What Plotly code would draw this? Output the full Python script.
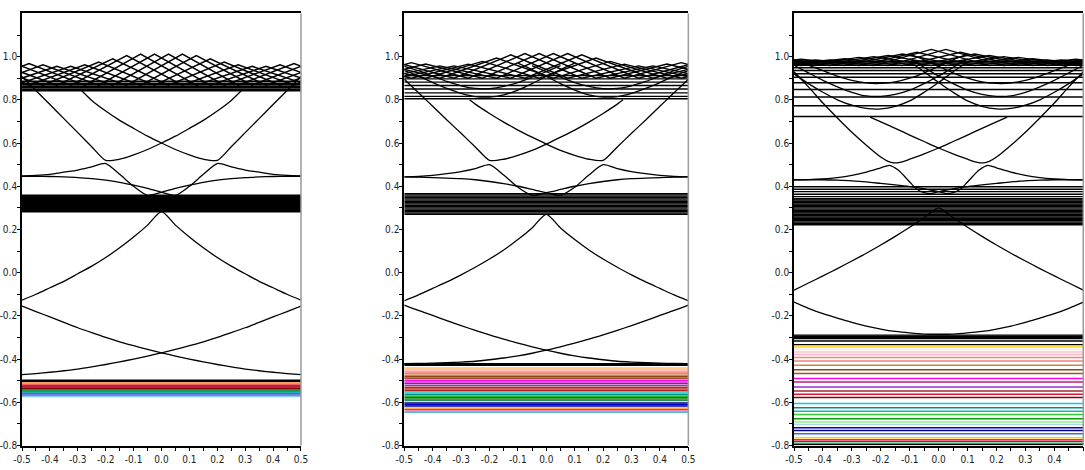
import plotly.graph_objects as go

# ---------------- common grids ----------------
XG = [-0.5, -0.45, -0.4, -0.35, -0.3, -0.25, -0.2, -0.15, -0.1, -0.05, 0.0,
      0.05, 0.1, 0.15, 0.2, 0.25, 0.3, 0.35, 0.4, 0.45, 0.5]
XR = [-0.5, 0.5]
FISH_X = [-0.675, -0.625, -0.575, -0.525, -0.475, -0.425, -0.375, -0.325, -0.275, -0.225,
          -0.175, -0.125, -0.075, -0.025, 0.025, 0.075, 0.125, 0.175, 0.225, 0.275,
          0.325, 0.375, 0.425, 0.475, 0.525, 0.575, 0.625, 0.675]

# ---------------- panel 1 ----------------
P1_V = [-0.127, -0.10, -0.07, -0.04, -0.005, 0.03, 0.07, 0.115, 0.165, 0.22, 0.283,
        0.22, 0.165, 0.115, 0.07, 0.03, -0.005, -0.04, -0.07, -0.10, -0.127]
P1_X = [-0.155, -0.18, -0.205, -0.23, -0.255, -0.278, -0.30, -0.32, -0.338, -0.355, -0.371,
        -0.386, -0.40, -0.413, -0.425, -0.436, -0.446, -0.454, -0.461, -0.467, -0.472]
P1_R = [0.448, 0.45, 0.455, 0.465, 0.475, 0.49, 0.505, 0.455, 0.40, 0.358, 0.372,
        0.39, 0.405, 0.418, 0.428, 0.435, 0.44, 0.443, 0.445, 0.446, 0.446]
P1_BX = [-0.5, -0.46, -0.4, -0.35, -0.3, -0.25, -0.2, -0.15, -0.1, -0.05, 0.0,
         0.05, 0.1, 0.15, 0.2, 0.25, 0.292]
P1_BY = [0.908, 0.856, 0.778, 0.713, 0.648, 0.583, 0.52, 0.525, 0.545, 0.57, 0.60,
         0.632, 0.668, 0.705, 0.748, 0.797, 0.85]
P1_TOP = [0.955, 0.955, 0.962, 0.968, 0.968, 0.962, 0.955, 0.955, 0.962, 0.975, 0.99, 1.005, 1.012, 1.012,
          1.012, 1.012, 1.005, 0.99, 0.975, 0.962, 0.955, 0.955, 0.962, 0.968, 0.968, 0.962, 0.955, 0.955]
P1_BOT = 0.868
P1_FLAT = [0.842, 0.849, 0.856, 0.863, 0.870, 0.877, 0.886]
P1_BAND = [0.284, 0.29, 0.296, 0.302, 0.308, 0.314, 0.32, 0.326, 0.332, 0.338, 0.344, 0.35, 0.356]
P1_COL_LEV = [-0.498, -0.504, -0.51, -0.516, -0.522, -0.527, -0.532, -0.538, -0.544,
              -0.549, -0.555, -0.561, -0.567, -0.573]
P1_COL = ['#000000', '#000000', '#F4A460', '#FA8072', '#DC143C', '#B22222', '#C71585',
          '#8B0000', '#00A651', '#2E8B57', '#20B2AA', '#4169E1', '#7B68EE', '#87CEEB']

# ---------------- panel 2 ----------------
P2_V = [-0.13, -0.103, -0.073, -0.043, -0.01, 0.025, 0.063, 0.105, 0.153, 0.207, 0.27,
        0.207, 0.153, 0.105, 0.063, 0.025, -0.01, -0.043, -0.073, -0.103, -0.13]
P2_X = [-0.15, -0.175, -0.198, -0.222, -0.245, -0.267, -0.288, -0.308, -0.326, -0.343, -0.359,
        -0.373, -0.385, -0.395, -0.403, -0.41, -0.414, -0.417, -0.419, -0.42, -0.421]
P2_R = [0.443, 0.445, 0.45, 0.458, 0.468, 0.482, 0.50, 0.452, 0.395, 0.358, 0.37,
        0.385, 0.40, 0.412, 0.422, 0.43, 0.435, 0.438, 0.44, 0.442, 0.443]
P2_BX = [-0.5, -0.433, -0.4, -0.35, -0.3, -0.25, -0.2, -0.15, -0.1, -0.05, 0.0,
         0.05, 0.1, 0.15, 0.2, 0.25, 0.27]
P2_BY = [0.895, 0.812, 0.77, 0.707, 0.645, 0.582, 0.52, 0.525, 0.543, 0.566, 0.595,
         0.627, 0.66, 0.697, 0.737, 0.78, 0.80]
P2_U1X = [-0.5, -0.45, -0.4, -0.35, -0.3, -0.25, -0.2, -0.15, -0.1, -0.05, 0.0, 0.05, 0.1]
P2_U1Y = [0.935, 0.91, 0.88, 0.853, 0.83, 0.815, 0.813, 0.823, 0.845, 0.875, 0.908, 0.94, 0.97]
P2_U2X = [-0.5, -0.45, -0.4, -0.35, -0.3, -0.25, -0.2, -0.15, -0.1, -0.05, 0.0, 0.05]
P2_U2Y = [0.955, 0.935, 0.91, 0.885, 0.865, 0.853, 0.852, 0.862, 0.88, 0.905, 0.93, 0.958]
P2_TOP = [0.957, 0.957, 0.966, 0.972, 0.972, 0.966, 0.957, 0.957, 0.965, 0.978, 0.993, 1.008, 1.014, 1.014,
          1.014, 1.014, 1.008, 0.993, 0.978, 0.965, 0.957, 0.957, 0.966, 0.972, 0.972, 0.966, 0.957, 0.957]
P2_BOT = 0.9
P2_FLAT = [0.805, 0.816, 0.832, 0.85, 0.866, 0.882, 0.897, 0.912]
P2_BAND = [0.27, 0.276, 0.282, 0.288, 0.294, 0.3, 0.306, 0.312, 0.318, 0.324, 0.33, 0.336,
           0.342, 0.348, 0.354, 0.36, 0.366]
P2_COL_LEV = [-0.425, -0.441, -0.447, -0.452, -0.46, -0.467, -0.475, -0.482, -0.489, -0.498,
              -0.505, -0.512, -0.521, -0.53, -0.537, -0.545, -0.552, -0.558, -0.565, -0.572,
              -0.578, -0.585, -0.591, -0.603, -0.61, -0.617, -0.626, -0.634, -0.645]
P2_COL = ['#000000', '#FFD700', '#FFB6C1', '#FFC0CB', '#FA8072', '#F08080', '#CD853F', '#8B4513',
          '#A0522D', '#FF00FF', '#DA70D6', '#C000C0', '#9932CC', '#A52A2A', '#CD5C5C', '#B22222',
          '#00CED1', '#48D1CC', '#008B8B', '#32CD32', '#008000', '#228B22', '#2E8B57', '#000080',
          '#0000CD', '#00008B', '#FFD700', '#FF1493', '#20B2AA']

# ---------------- panel 3 ----------------
P3_V = [-0.081, -0.048, -0.015, 0.019, 0.054, 0.09, 0.128, 0.168, 0.21, 0.255, 0.30,
        0.255, 0.21, 0.168, 0.128, 0.09, 0.054, 0.019, -0.015, -0.048, -0.081]
P3_L = [-0.136, -0.165, -0.19, -0.21, -0.23, -0.247, -0.261, -0.272, -0.279, -0.284, -0.285,
        -0.284, -0.279, -0.272, -0.261, -0.247, -0.23, -0.21, -0.19, -0.165, -0.136]
P3_RX = [-0.5, -0.45, -0.4, -0.35, -0.3, -0.25, -0.2, -0.17, -0.14, -0.1, -0.075, -0.05, -0.025, 0.0,
         0.05, 0.1, 0.15, 0.2, 0.25, 0.3, 0.35, 0.4, 0.45, 0.5]
P3_RY = [0.43, 0.431, 0.434, 0.44, 0.45, 0.465, 0.485, 0.497, 0.475, 0.42, 0.386, 0.37, 0.366, 0.375,
         0.388, 0.398, 0.406, 0.413, 0.42, 0.425, 0.428, 0.43, 0.43, 0.43]
P3_BX = [-0.5, -0.45, -0.4, -0.35, -0.3, -0.25, -0.2, -0.175, -0.155, -0.13, -0.1, -0.05, 0.0,
         0.05, 0.1, 0.15, 0.2, 0.237]
P3_BY = [0.93, 0.86, 0.785, 0.716, 0.65, 0.59, 0.535, 0.515, 0.508, 0.512, 0.525, 0.55, 0.577,
         0.607, 0.637, 0.668, 0.698, 0.72]
P3_UX = [-0.5, -0.45, -0.4, -0.35, -0.3, -0.25, -0.2, -0.15, -0.1, -0.05, 0.0, 0.05, 0.1]
P3_U1 = [0.92, 0.875, 0.835, 0.80, 0.775, 0.76, 0.758, 0.77, 0.795, 0.835, 0.88, 0.93, 0.975]
P3_U2 = [0.96, 0.925, 0.89, 0.86, 0.835, 0.818, 0.816, 0.825, 0.845, 0.875, 0.91, 0.95, 0.99]
P3_U3 = [0.985, 0.96, 0.935, 0.91, 0.89, 0.878, 0.876, 0.883, 0.90, 0.925, 0.955, 0.985, 1.01]
P3_TOP = [0.99, 0.985, 0.985, 0.988, 0.988, 0.985, 0.985, 0.99, 0.996, 1.0, 1.005, 1.012, 1.02, 1.033,
          1.033, 1.02, 1.012, 1.005, 1.0, 0.996, 0.99, 0.985, 0.985, 0.988, 0.988, 0.985, 0.985, 0.99]
P3_BOT = 0.958
P3_FLAT = [0.723, 0.773, 0.813, 0.848, 0.879, 0.905, 0.921, 0.936, 0.948, 0.96, 0.97, 0.978]
P3_BAND = [0.222, 0.228, 0.234, 0.24, 0.246, 0.252, 0.258, 0.264, 0.27, 0.276, 0.282, 0.288,
           0.294, 0.3, 0.306, 0.312, 0.318, 0.324, 0.33, 0.336, 0.342, 0.352, 0.363, 0.375,
           0.386, 0.398]
P3_BLACK = [-0.289, -0.294, -0.299, -0.305, -0.316, -0.333]
P3_COL_LEV = [-0.344, -0.356, -0.367, -0.379, -0.393, -0.409, -0.429, -0.449, -0.467, -0.49,
              -0.506, -0.529, -0.548, -0.563, -0.578, -0.606, -0.625, -0.641, -0.657, -0.676,
              -0.691, -0.703, -0.718, -0.73, -0.746, -0.764, -0.773, -0.781, -0.789, -0.795]
P3_COL = ['#FFD700', '#FFE4E1', '#FFC0CB', '#FFB6C1', '#FA8072', '#F08080', '#CD853F', '#8B4513',
          '#A0522D', '#FF00FF', '#C71585', '#9932CC', '#A52A2A', '#DC143C', '#8B0000', '#00CED1',
          '#008B8B', '#20B2AA', '#32CD32', '#00A000', '#90EE90', '#ADD8E6', '#0000CD', '#000080',
          '#4169E1', '#FFD700', '#FF1493', '#FF0000', '#00FA9A', '#000000']

Y_TICKS = [-0.8, -0.7, -0.6, -0.5, -0.4, -0.3, -0.2, -0.1, 0.0, 0.1, 0.2, 0.3, 0.4, 0.5,
           0.6, 0.7, 0.8, 0.9, 1.0, 1.1]
Y_TEXT = ['-0.8', '', '-0.6', '', '-0.4', '', '-0.2', '', '0.0', '', '0.2', '',
          '0.4', '', '0.6', '', '0.8', '', '1.0', '']
X_TICKS = [-0.5, -0.45, -0.4, -0.35, -0.3, -0.25, -0.2, -0.15, -0.1, -0.05, 0.0,
           0.05, 0.1, 0.15, 0.2, 0.25, 0.3, 0.35, 0.4, 0.45, 0.5]
X_TEXT = ['-0.5', '', '-0.4', '', '-0.3', '', '-0.2', '', '-0.1', '', '0.0',
          '', '0.1', '', '0.2', '', '0.3', '', '0.4', '', '0.5']

fig = go.Figure()


def add(panel, x, y, color='black', width=1.3, shape='spline'):
    ax = '' if panel == 1 else str(panel)
    fig.add_trace(go.Scatter(x=x, y=y, mode='lines',
                             line=dict(color=color, width=width, shape=shape, smoothing=0.7),
                             xaxis='x' + ax, yaxis='y' + ax, showlegend=False, hoverinfo='skip'))


def mirror(xs):
    return [-v for v in xs]


def flats(panel, levels, colors, width):
    for lev, c in zip(levels, colors):
        add(panel, XR, [lev, lev], c, width, 'linear')


def fishnet(panel, top, bot, width):
    for r in range(4):
        for ph in range(2):
            xs, ys = [], []
            for j in range(r, len(FISH_X), 4):
                k = (j - r) // 4
                xs.append(FISH_X[j])
                ys.append(top[j] if (k + ph) % 2 == 0 else bot)
            add(panel, xs, ys, 'black', width, 'linear')


# panel 1
flats(1, P1_COL_LEV, P1_COL, 1.6)
flats(1, P1_BAND, ['black'] * len(P1_BAND), 2.6)
flats(1, P1_FLAT, ['black'] * len(P1_FLAT), 1.4)
fishnet(1, P1_TOP, P1_BOT, 1.5)
add(1, XG, P1_V)
add(1, XG, P1_X)
add(1, mirror(XG), P1_X)
add(1, XG, P1_R)
add(1, mirror(XG), P1_R)
add(1, P1_BX, P1_BY)
add(1, mirror(P1_BX), P1_BY)

# panel 2
flats(2, P2_COL_LEV, P2_COL, 1.6)
flats(2, P2_BAND, ['black'] * len(P2_BAND), 1.3)
flats(2, P2_FLAT, ['black'] * len(P2_FLAT), 1.4)
fishnet(2, P2_TOP, P2_BOT, 1.4)
add(2, XG, P2_V)
add(2, XG, P2_X)
add(2, mirror(XG), P2_X)
add(2, XG, P2_R)
add(2, mirror(XG), P2_R)
add(2, P2_BX, P2_BY)
add(2, mirror(P2_BX), P2_BY)
add(2, P2_U1X, P2_U1Y)
add(2, mirror(P2_U1X), P2_U1Y)
add(2, P2_U2X, P2_U2Y)
add(2, mirror(P2_U2X), P2_U2Y)
add(2, XR, [P2_COL_LEV[0], P2_COL_LEV[0]], 'black', 2.8, 'linear')

# panel 3
flats(3, P3_COL_LEV, P3_COL, 1.5)
flats(3, P3_BLACK, ['black'] * len(P3_BLACK), 1.4)
flats(3, P3_BAND, ['black'] * len(P3_BAND), 1.4)
flats(3, P3_FLAT, ['black'] * len(P3_FLAT), 1.5)
fishnet(3, P3_TOP, P3_BOT, 1.3)
add(3, XG, P3_V)
add(3, XG, P3_L)
add(3, P3_RX, P3_RY)
add(3, mirror(P3_RX), P3_RY)
add(3, P3_BX, P3_BY)
add(3, mirror(P3_BX), P3_BY)
for u in (P3_U1, P3_U2, P3_U3):
    add(3, P3_UX, u)
    add(3, mirror(P3_UX), u)

FONT = dict(family='Liberation Sans Narrow, Arial Narrow, DejaVu Sans Condensed, sans-serif',
            size=10, color='#222')
DOMS = [[0.0203, 0.2774], [0.3726, 0.6344], [0.7318, 0.9984]]
YDOM = [0.0521, 0.9715]

layout = dict(width=1085, height=470, margin=dict(l=0, r=0, t=0, b=0),
              paper_bgcolor='white', plot_bgcolor='white', showlegend=False)
shapes = []
for i, d in enumerate(DOMS):
    s = '' if i == 0 else str(i + 1)
    layout['xaxis' + s] = dict(domain=d, range=[-0.5, 0.5], anchor='y' + s,
                               tickmode='array', tickvals=X_TICKS, ticktext=X_TEXT,
                               ticks='outside', ticklen=4, tickwidth=1, tickcolor='black',
                               showline=True, linecolor='black', linewidth=1.7, mirror=True,
                               showgrid=False, zeroline=False, tickfont=FONT, automargin=False)
    layout['yaxis' + s] = dict(domain=YDOM, range=[-0.8, 1.2], anchor='x' + s,
                               tickmode='array', tickvals=Y_TICKS, ticktext=Y_TEXT,
                               ticks='outside', ticklen=3, tickwidth=1, tickcolor='black',
                               ticklabelstandoff=-2,
                               showline=True, linecolor='black', linewidth=1.7,
                               showgrid=False, zeroline=False, tickfont=FONT, automargin=False)
    shapes.append(dict(type='line', xref='x' + s + ' domain', yref='y' + s + ' domain',
                       x0=1, x1=1, y0=0, y1=1, line=dict(color='#9a9a9a', width=1.5)))
layout['shapes'] = shapes
fig.update_layout(**layout)
fig.write_html('out.html')
